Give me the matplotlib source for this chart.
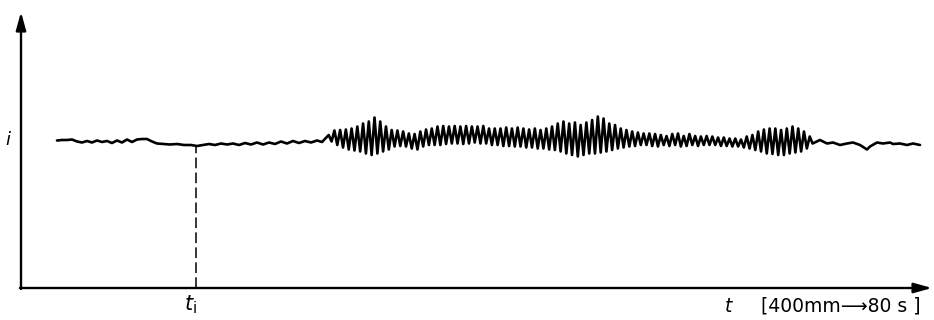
import matplotlib.pyplot as plt
import numpy as np

# quiet part before the oscillation (t from the i axis, i from the t axis)
left_t = [36, 41, 46, 51, 56, 61, 66, 71, 76, 81, 86, 91, 96, 101, 106, 111, 116, 121, 126, 131,
          136, 142, 149, 156, 163, 170, 176, 182, 188, 194, 200, 206, 212, 218, 224, 230, 236, 242,
          248, 254, 260, 266, 272, 278, 284, 290, 296, 301]
left_i = [147.5, 148, 148, 148.5, 146.5, 145.5, 147, 145.5, 147.5, 146, 147, 145, 147.5, 145.5, 148.5, 146,
          148.5, 149, 149, 146.5, 144.5, 144, 143.5, 144, 143, 143, 142, 143, 144, 143, 144.5, 143.5,
          144.5, 143, 145, 143.5, 145.5, 143.5, 145.5, 144, 146.5, 144.5, 147, 145, 147, 145.5, 147.5, 146]

# oscillation: top and bottom of each swing
osc_top = [153, 157.5, 158, 158.5, 159.5, 161.5, 164.5, 166.5, 170.5, 166.5, 161.5, 158, 157.5, 156.5,
           154.5, 154, 156.5, 158.5, 159.5, 161.5, 162, 161.5, 162, 161.5, 162, 161.5, 161.5, 162,
           159.5, 159.5, 159.5, 160.5, 159.5, 160.5, 159.5, 158.5, 159.5, 158, 159.5, 161.5, 164.5, 166.5,
           164.5, 165.5, 163, 165.5, 168, 171.5, 169.5, 164.5, 163, 159.5, 158, 156.5, 155.5, 154.5,
           154.5, 154, 153, 152, 154, 154.5, 152, 154, 152, 151.5, 152, 151.5, 150.5, 150.5,
           149.5, 149.5, 148.5, 151.5, 153, 156.5, 158.5, 159.5, 159.5, 158, 159.5, 161.5, 159.5, 156.5, 151.5]
osc_bottom = [146.5, 143, 140.5, 138.5, 137.5, 136.5, 134.5, 133, 134.5, 136.5, 138.5, 141.5, 142, 141.5,
              139.5, 138.5, 141.5, 143, 143, 143, 144, 144.5, 144.5, 144, 144.5, 145.5, 144.5, 144.5,
              143, 143, 142, 142, 141.5, 141.5, 140.5, 140.5, 139.5, 139.5, 138.5, 138, 136.5, 134.5,
              133, 131.5, 133, 134.5, 134.5, 135.5, 136.5, 138, 139.5, 140.5, 141.5, 142, 143, 143,
              142, 141.5, 143, 142, 143, 141.5, 142, 143, 142, 143, 143, 143, 142, 142,
              141.5, 141.5, 140.5, 139.5, 138, 136.5, 134.5, 134, 133, 133, 134.5, 135.5, 136.5, 139.5, 144.5]
osc_start = 307.7
osc_end = 788.7

# quiet part after the oscillation
right_t = [799, 806, 812, 819, 826, 832, 839, 846, 849, 856, 862, 869, 872, 879, 886, 892, 899]
right_i = [148, 144.5, 145.5, 143, 144.5, 145.5, 143, 138.5, 141.5, 145.5, 144.5, 145.5, 144, 144.5, 143, 144.5, 143]

t_i = 175
i_at_ti = 142

# swing times: one top and one bottom per period
n = len(osc_top)
tp = np.linspace(osc_start, osc_end, n)
half = (osc_end - osc_start) / (n - 1) / 2
osc_t = np.column_stack([tp, tp + half]).ravel()
osc_i = np.column_stack([osc_top, osc_bottom]).ravel()

t = np.concatenate([left_t, osc_t, right_t])
i = np.concatenate([left_i, osc_i, right_i])

fig = plt.figure(figsize=(9.34, 3.2), dpi=100)
ax = fig.add_axes([0, 0, 1, 1])
ax.set_xlim(-21, 913)
ax.set_ylim(-32, 288)
ax.axis('off')

ax.plot(t, i, color='black', lw=1.9, solid_joinstyle='round', solid_capstyle='round')
ax.plot([t_i, t_i], [0, i_at_ti], color='black', lw=1.1, linestyle=(0, (7, 2.8)))

# axes with arrow heads
arrow = dict(arrowstyle='-|>,head_length=0.9,head_width=0.25', color='black', lw=1.7,
             shrinkA=0, shrinkB=0, mutation_scale=12)
ax.annotate('', xy=(0, 276), xytext=(0, -1), arrowprops=arrow)
ax.annotate('', xy=(911, 0), xytext=(-1, 0), arrowprops=arrow)

ax.text(-13, 148, 'i', fontsize=13, style='italic', ha='center', va='center')
ax.text(t_i - 6, -17, r'$t_\mathrm{i}$', fontsize=15, ha='center', va='center')
ax.text(707, -18, 't', fontsize=13.5, style='italic', ha='center', va='center')
ax.text(740, -18, '[400mm⟶80 s ]', fontsize=13.5, ha='left', va='center')

fig.savefig('out.png', dpi=100)
